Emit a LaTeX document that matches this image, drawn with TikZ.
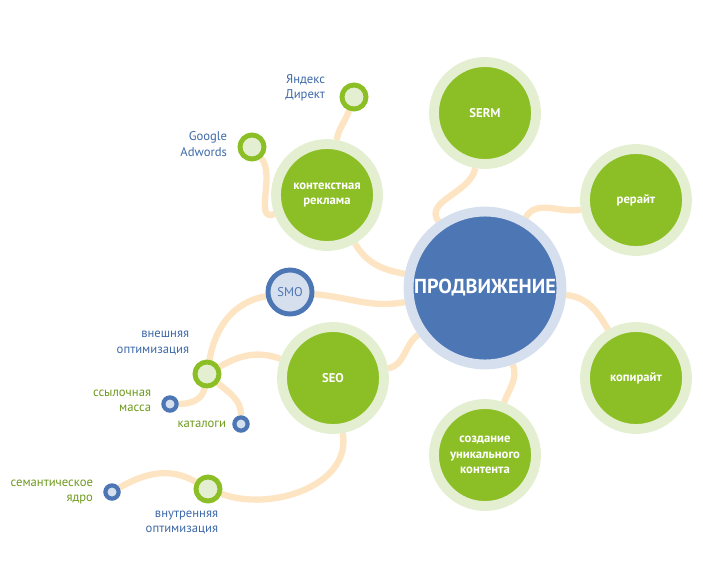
\documentclass[tikz,border=0pt]{standalone}
\usepackage{fontspec}
\setmainfont{PT Sans}
\usetikzlibrary{backgrounds}
\definecolor{leaf}{HTML}{8CBF26}
\definecolor{leafring}{HTML}{E4EFD2}
\definecolor{sky}{HTML}{4C76B4}
\definecolor{skyring}{HTML}{D6DFEE}
\definecolor{peach}{HTML}{FDE5C4}
\definecolor{bluetext}{HTML}{3D69A8}
\definecolor{greentext}{HTML}{6E9A1E}
\begin{document}
\begin{tikzpicture}[x=0.025cm,y=-0.025cm,
  topic/.style={circle, fill=leaf, draw=leafring, line width=7pt, minimum size=94\pgflinewidth/7*0.025cm/0.025cm, text=white, font=\bfseries\small, align=center, inner sep=0pt, minimum size=2.55cm},
  hub/.style={circle, fill=sky, draw=skyring, line width=7pt, minimum size=3.75cm, text=white, font=\bfseries\Large},
  sub/.style={circle, fill=leafring, draw=leaf, line width=3.5pt, minimum size=0.6cm, inner sep=0pt},
  leafnode/.style={circle, fill=skyring, draw=sky, line width=3pt, minimum size=0.33cm, inner sep=0pt},
  smo/.style={circle, fill=skyring, draw=sky, line width=3.5pt, minimum size=1.1cm, text=sky, font=\small, inner sep=0pt},
  lbl/.style={font=\small, text=bluetext, align=right},
  glbl/.style={font=\small, text=greentext, align=right},
  link/.style={draw=peach, line width=4.5pt}]
  \useasboundingbox (0,0) rectangle (703,586);
  \node[hub] at (485,288) (prod) {ПРОДВИЖЕНИЕ};
  \node[topic] at (485,113) (serm) {SERM};
  \node[topic] at (636,200) (rewrite) {рерайт};
  \node[topic] at (636,378) (copy) {копирайт};
  \node[topic] at (485,455) (content) {создание\\уникального\\контента};
  \node[topic] at (327,195) (context) {контекстная\\реклама};
  \node[topic] at (333,378) (seo) {SEO};
  \node[smo] at (290,292) (smo) {SMO};
  \node[sub] at (354,97) (yandex) {};
  \node[sub] at (252,147) (google) {};
  \node[sub] at (207,374) (outer) {};
  \node[sub] at (208,489) (inner) {};
  \node[leafnode] at (170,404) (links) {};
  \node[leafnode] at (241,424) (catalog) {};
  \node[leafnode] at (112,492) (core) {};
  % labels
  \node[lbl, anchor=east] at (330,88) {Яндекс\\Директ};
  \node[lbl, anchor=east] at (232,144) {Google\\Adwords};
  \node[lbl, anchor=east] at (194,343) {внешняя\\оптимизация};
  \node[lbl, anchor=north east] at (223,506) {внутренняя\\оптимизация};
  \node[glbl, anchor=east] at (156,401) {ссылочная\\масса};
  \node[glbl, anchor=east] at (231,424) {каталоги};
  \node[glbl, anchor=east] at (98,492) {семантическое\\ядро};
  \begin{pgfonlayer}{background}
    \draw[link] (prod) to[out=125,in=260] (serm);
    \draw[link] (prod) to[out=60,in=190] (rewrite);
    \draw[link] (prod) to[out=-5,in=120] (copy);
    \draw[link] (prod) to[out=-70,in=70] (content);
    \draw[link] (prod) to[out=215,in=10] (seo);
    \draw[link] (prod) to[out=190,in=-5] (smo);
    \draw[link] (prod) to[out=170,in=-60] (context);
    \draw[link] (context) to[out=80,in=-110] (yandex);
    \draw[link] (context) to[out=200,in=-50] (google);
    \draw[link] (smo) to[out=190,in=80] (outer);
    \draw[link] (seo) to[out=160,in=30] (outer);
    \draw[link] (outer) to[out=-100,in=0] (links);
    \draw[link] (outer) to[out=-40,in=90] (catalog);
    \draw[link] (seo) to[out=-80,in=-20] (inner);
    \draw[link] (inner) to[out=150,in=30] (core);
  \end{pgfonlayer}
\end{tikzpicture}
\end{document}
